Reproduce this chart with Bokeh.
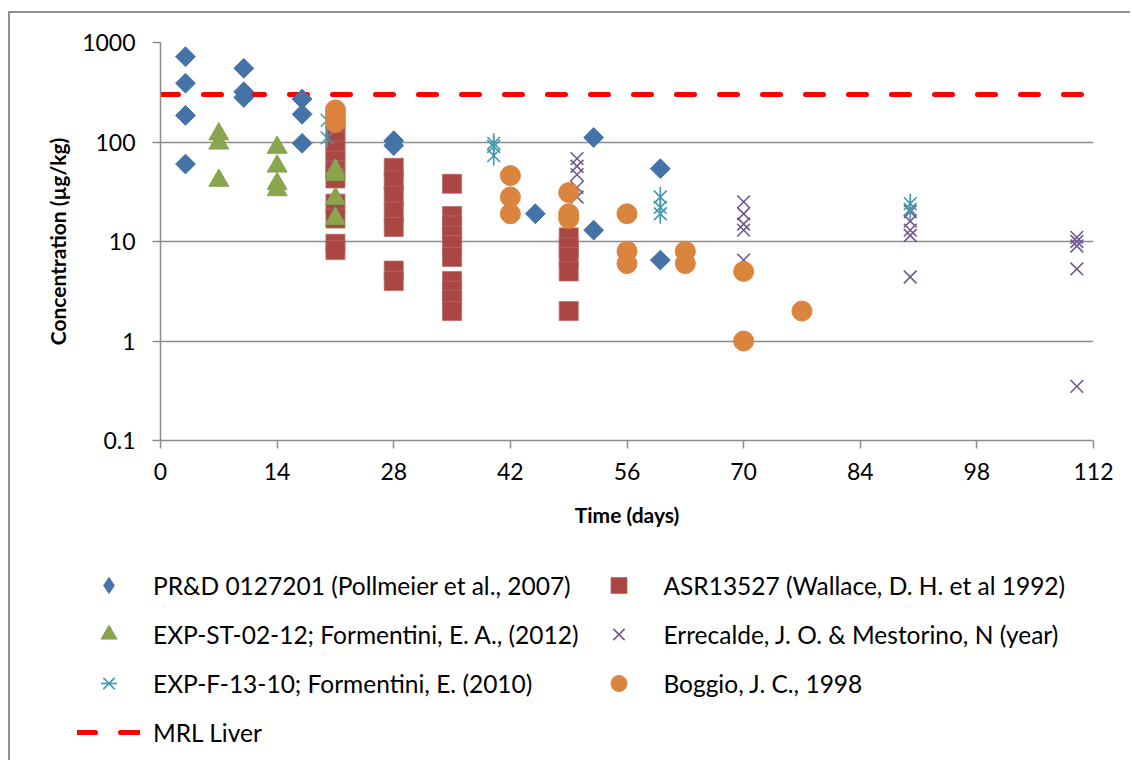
import numpy as np
from bokeh.plotting import figure
from bokeh.models import Range1d, FixedTicker, Legend, LegendItem
from bokeh.embed import file_html
from bokeh.resources import INLINE

# ---------------- data ----------------
pr_x = [3, 3, 3, 3, 10, 10, 10, 17, 17, 17, 28, 28, 45, 52, 52, 60, 60]
pr_y = [720, 390, 185, 60, 550, 320, 280, 270, 190, 97, 103, 92, 19, 111, 13, 54, 6.5]

asr_x = [21] * 11 + [28] * 7 + [35] * 10 + [49] * 5
asr_y = [165, 130, 103, 82, 65, 52, 43, 24, 17, 9.5, 8.2,
         55, 41, 29, 20, 14, 5.1, 4,
         38, 18, 14.5, 11.5, 9.2, 7, 4, 3.2, 2.6, 2,
         11, 8.7, 7, 5, 2]

st_x = [7, 7, 7, 14, 14, 14, 14, 21, 21, 21, 21]
st_y = [120, 97, 41, 88, 57, 38, 33, 52, 47, 27, 17]

err_x = [50] * 5 + [70] * 5 + [90] * 5 + [110] * 5
err_y = [68, 57, 47, 35, 28,
         25, 19, 15, 13, 6.5,
         20, 16, 13, 11.5, 4.4,
         11, 10, 9, 5.3, 0.35]

f_x = [20, 20, 40, 40, 40, 60, 60, 60, 90, 90]
f_y = [165, 110, 97, 90, 73, 28, 22, 19, 24, 21]

bog_x = [21, 21, 21, 42, 42, 42, 49, 49, 49, 56, 56, 56, 63, 63, 70, 70, 77]
bog_y = [210, 185, 157, 46, 28, 19, 31, 19, 17, 19, 8, 6, 8, 6, 5, 1, 2]

mrl_x = [0, 112]
mrl_y = [300, 300]

x_ticks = [0, 14, 28, 42, 56, 70, 84, 98, 112]
y_ticks = [0.1, 1, 10, 100, 1000]
y_labels = ["0.1", "1", "10", "100", "1000"]

labels = [
    "PR&D 0127201 (Pollmeier et al., 2007)",
    "ASR13527 (Wallace, D. H. et al 1992)",
    "EXP-ST-02-12; Formentini, E. A., (2012)",
    "Errecalde, J. O. & Mestorino, N (year)",
    "EXP-F-13-10; Formentini, E. (2010)",
    "Boggio, J. C., 1998",
    "MRL Liver",
]

C_BLUE = "#4572A7"
C_RED = "#AA4643"
C_GREEN = "#89A54E"
C_PURPLE = "#71588F"
C_TEAL = "#4198AF"
C_ORANGE = "#DB843D"

FONT = "Lato"
FRAME_CSS = "2px solid #8f8f8f"

# chart-area frame: left edge at x=8..10, top edge at y=11..13
OFF_X = 10
OFF_Y = 13
W = 1132 - OFF_X
H1 = 545 - OFF_Y
H2 = 762 - 545


def add_series(fig, legend_only=False):
    """Draw all series on fig; returns renderers in a dict."""
    r = {}
    r["mrl"] = fig.line(mrl_x, mrl_y, line_color="#FF0000", line_width=5,
                        line_dash="18 25", line_cap="round")
    if legend_only:
        r["pr"] = fig.scatter(pr_x, pr_y, marker="diamond", size=20,
                              fill_color=C_BLUE, line_color=C_BLUE, line_width=1)
    else:
        r["pr"] = fig.scatter(pr_x, pr_y, marker="square", size=14, angle=np.pi / 4,
                              fill_color=C_BLUE, line_color=C_BLUE, line_width=1)
    r["asr"] = fig.scatter(asr_x, asr_y, marker="square", size=19,
                           fill_color=C_RED, line_color="#b86a67", line_width=0.8)
    r["st"] = fig.scatter(st_x, st_y, marker="triangle", size=20,
                          fill_color=C_GREEN, line_color=C_GREEN, line_width=1)
    r["err"] = fig.scatter(err_x, err_y, marker="x", size=18,
                           line_color=C_PURPLE, line_width=1.6)
    r["f1"] = fig.scatter(f_x, f_y, marker="x", size=18,
                          line_color=C_TEAL, line_width=1.6)
    r["f2"] = fig.scatter(f_x, f_y, marker="dash", size=20, angle=np.pi / 2,
                          line_color=C_TEAL, line_width=1.6)
    r["bog"] = fig.scatter(bog_x, bog_y, marker="circle", size=20,
                           fill_color=C_ORANGE, line_color=C_ORANGE, line_width=1)
    return r


# ---------------- main figure ----------------
p = figure(width=W, height=H1, output_backend="svg", toolbar_location=None,
           y_axis_type="log",
           x_range=Range1d(0, 112), y_range=Range1d(0.1, 1000),
           min_border_left=160 - OFF_X, min_border_right=39,
           min_border_top=42 - OFF_Y, min_border_bottom=545 - 440)
p.margin = (11, 0, 0, 8)
p.styles = {"border-left": FRAME_CSS, "border-top": FRAME_CSS}
p.outline_line_color = None
p.background_fill_color = "white"
p.border_fill_color = "white"

p.xgrid.visible = False
p.ygrid.grid_line_color = "#8c8c8c"
p.ygrid.grid_line_width = 1.5
p.ygrid.minor_grid_line_color = None

for ax in (p.xaxis[0], p.yaxis[0]):
    ax.axis_line_color = "#8c8c8c"
    ax.axis_line_width = 1.5
    ax.major_tick_line_color = "#8c8c8c"
    ax.major_tick_line_width = 1.5
    ax.major_tick_out = 8
    ax.major_tick_in = 0
    ax.minor_tick_line_color = None
    ax.major_label_text_font = FONT
    ax.major_label_text_font_size = "23px"
    ax.major_label_text_color = "black"
    ax.axis_label_text_font = FONT
    ax.axis_label_text_font_size = "21px"
    ax.axis_label_text_font_style = "bold"
    ax.axis_label_text_color = "black"

p.xaxis.ticker = FixedTicker(ticks=x_ticks)
p.yaxis.ticker = FixedTicker(ticks=y_ticks, minor_ticks=[])
p.yaxis.major_label_overrides = {t: l for t, l in zip(y_ticks, y_labels)}
p.xaxis.axis_label = "Time (days)"
p.yaxis.axis_label = "Concentration (µg/kg)"
p.xaxis.major_label_standoff = 14
p.yaxis.major_label_standoff = 17
p.xaxis.axis_label_standoff = 19
p.yaxis.axis_label_standoff = 9

add_series(p)

# ---------------- legend figure (same series, view range holds no data) ----
p2 = figure(width=W, height=H2, output_backend="svg", toolbar_location=None,
            x_range=Range1d(-3, -2), y_range=Range1d(-3, -2),
            x_axis_location=None, y_axis_location=None,
            min_border=0)
p2.margin = (0, 0, 0, 8)
p2.styles = {"border-left": FRAME_CSS}
p2.grid.visible = False
p2.outline_line_color = None
p2.background_fill_color = "white"
p2.border_fill_color = "white"
lr = add_series(p2, legend_only=True)

legend = Legend(items=[
    LegendItem(label=labels[0], renderers=[lr["pr"]]),
    LegendItem(label=labels[2], renderers=[lr["st"]]),
    LegendItem(label=labels[4], renderers=[lr["f1"], lr["f2"]]),
    LegendItem(label=labels[6], renderers=[lr["mrl"]]),
    LegendItem(label=labels[1], renderers=[lr["asr"]]),
    LegendItem(label=labels[3], renderers=[lr["err"]]),
    LegendItem(label=labels[5], renderers=[lr["bog"]]),
], location=(77 - OFF_X, 8), orientation="vertical", ncols=2,
    padding=0, margin=0, spacing=9,
    glyph_width=63, glyph_height=40, label_height=40,
    label_standoff=13,
    label_text_font=FONT, label_text_font_size="24.5px",
    label_text_color="black",
    border_line_color=None, background_fill_alpha=0)
p2.add_layout(legend)

open("out.html", "w").write(file_html([p, p2], INLINE))
